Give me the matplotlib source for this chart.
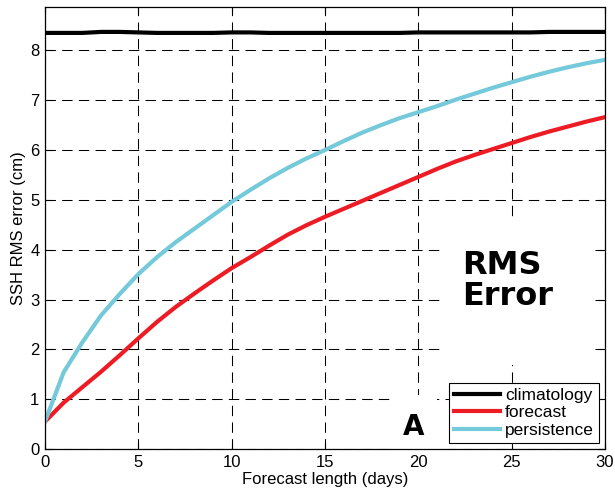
import matplotlib
matplotlib.use("Agg")
import matplotlib.pyplot as plt
from matplotlib.patches import Rectangle

plt.rcParams['font.family'] = ['Liberation Sans', 'DejaVu Sans']

days = list(range(31))
climatology = [8.35, 8.35, 8.35, 8.37, 8.37, 8.36, 8.35, 8.35, 8.35, 8.35,
               8.36, 8.36, 8.35, 8.35, 8.35, 8.35, 8.35, 8.35, 8.35, 8.35,
               8.36, 8.36, 8.36, 8.36, 8.36, 8.36, 8.36, 8.37, 8.37, 8.37, 8.37]
forecast = [0.55, 0.93, 1.24, 1.55, 1.88, 2.22, 2.55, 2.85, 3.12, 3.38,
            3.63, 3.85, 4.08, 4.30, 4.49, 4.66, 4.82, 4.98, 5.14, 5.30,
            5.46, 5.62, 5.77, 5.90, 6.02, 6.14, 6.26, 6.37, 6.47, 6.57, 6.66]
persistence = [0.55, 1.54, 2.14, 2.68, 3.11, 3.51, 3.85, 4.15, 4.42, 4.69,
               4.96, 5.20, 5.43, 5.64, 5.83, 6.00, 6.18, 6.35, 6.50, 6.64,
               6.76, 6.88, 7.01, 7.13, 7.25, 7.36, 7.47, 7.57, 7.66, 7.74, 7.81]
xticks = [0, 5, 10, 15, 20, 25, 30]
yticks = [0, 1, 2, 3, 4, 5, 6, 7, 8]

fig = plt.figure(figsize=(6.15, 4.95), dpi=100)
ax = fig.add_axes([45/615, 1-449/495, 560/615, 442/495])

ax.plot(days, climatology, color='black', lw=3, label='climatology', zorder=3)
ax.plot(days, forecast, color='#ED1C24', lw=3, label='forecast', zorder=3)
ax.plot(days, persistence, color='#74C9DA', lw=3, label='persistence', zorder=3)

ax.set_xlim(0, 30)
ax.set_ylim(0, 8.87)
ax.set_xticks(xticks)
ax.set_yticks(yticks)
ax.grid(True, color='black', lw=0.75, linestyle=(0, (10, 6)), zorder=1)
ax.set_axisbelow(True)
ax.tick_params(direction='in', length=5, width=0.8, top=True, right=True,
               labelsize=12, pad=4, colors='black')
for s in ax.spines.values():
    s.set_linewidth(0.9)
    s.set_zorder(6)

ax.set_xlabel('Forecast length (days)', fontsize=12, labelpad=2)
ax.set_ylabel('SSH RMS error (cm)', fontsize=12, labelpad=3)

# white background boxes behind annotation texts
ax.add_patch(Rectangle(((442-45)/560, (449-365)/442), 150/560, 145/442,
                       transform=ax.transAxes, facecolor='white',
                       edgecolor='none', zorder=2))
ax.add_patch(Rectangle(((390-45)/560, 0), 47/560, 54/442,
                       transform=ax.transAxes, facecolor='white',
                       edgecolor='none', zorder=2))

ax.text((462-45)/560, (449-250)/442, 'RMS\nError', transform=ax.transAxes,
        fontsize=23, fontweight='bold', family='DejaVu Sans',
        ha='left', va='top', linespacing=1.0, zorder=4)
ax.text((414-45)/560, (449-435)/442, 'A', transform=ax.transAxes,
        fontsize=20, fontweight='bold', family='DejaVu Sans',
        ha='center', va='baseline', zorder=4)

leg = ax.legend(loc='lower right', fontsize=12.5, frameon=True, fancybox=False,
                framealpha=1, edgecolor='black', borderpad=0.3,
                labelspacing=0.12, handlelength=2.6, handletextpad=0.3,
                borderaxespad=0.35)
leg.get_frame().set_linewidth(0.8)
leg.set_zorder(7)

fig.savefig('out.png', dpi=100)
